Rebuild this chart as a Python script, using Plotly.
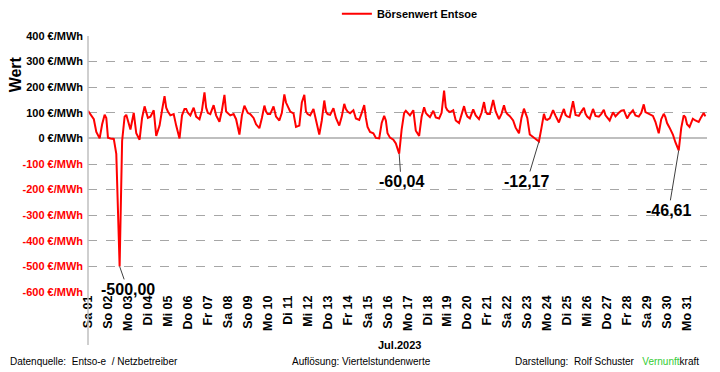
import pandas as pd
import plotly.graph_objects as go

# ---------------- data ----------------
SERIES_NAME = "Börsenwert Entsoe"
MONTH_LABEL = "Jul.2023"
Y_TITLE = "Wert"
YEAR, MONTH = 2023, 7
SAMPLE_HOURS = [0, 3, 7, 10, 14, 17, 20, 22]
DAY_LABELS = ["Sa 01", "So 02", "Mo 03", "Di 04", "Mi 05", "Do 06", "Fr 07",
              "Sa 08", "So 09", "Mo 10", "Di 11", "Mi 12", "Do 13", "Fr 14",
              "Sa 15", "So 16", "Mo 17", "Di 18", "Mi 19", "Do 20", "Fr 21",
              "Sa 22", "So 23", "Mo 24", "Di 25", "Mi 26", "Do 27", "Fr 28",
              "Sa 29", "So 30", "Mo 31"]

# €/MWh at SAMPLE_HOURS, one row per day
WEEK1 = [
    [108, 95, 75, 25, 0, 55, 92, 80],
    [3, 0, -2, -60, -500.00, -10, 85, 92],
    [70, 35, 100, 20, -5, 80, 125, 100],
    [80, 85, 110, 10, 50, 110, 165, 120],
    [105, 90, 95, 50, 0, 90, 115, 115],
    [100, 90, 120, 85, 75, 110, 180, 120],
    [100, 95, 130, 90, 65, 110, 170, 105],
]
WEEK2 = [
    [100, 90, 95, 75, 15, 90, 128, 110],
    [100, 95, 80, 55, 40, 80, 128, 105],
    [95, 95, 125, 85, 70, 100, 172, 140],
    [125, 105, 98, 45, 50, 140, 170, 105],
    [95, 90, 115, 70, 15, 70, 148, 105],
    [95, 92, 118, 80, 50, 85, 135, 115],
    [105, 98, 110, 78, 72, 100, 130, 80],
]
WEEK3 = [
    [45, 25, 20, 2, 0, 60, 88, 70],
    [20, 3, -5, -20, -60.04, 35, 100, 108],
    [100, 90, 110, 30, 10, 85, 122, 100],
    [92, 83, 108, 82, 78, 100, 187, 122],
    [110, 103, 110, 70, 60, 90, 126, 100],
    [85, 78, 113, 90, 75, 100, 142, 105],
    [95, 95, 150, 105, 75, 96, 129, 105],
]
WEEK4 = [
    [95, 87, 70, 42, 20, 80, 116, 98],
    [80, 15, 5, 0, -12.17, 40, 96, 75],
    [72, 78, 110, 88, 62, 90, 115, 92],
    [86, 83, 145, 92, 88, 105, 120, 96],
    [85, 77, 115, 88, 85, 96, 112, 90],
    [80, 70, 102, 86, 100, 108, 110, 95],
    [78, 95, 110, 90, 85, 100, 133, 103],
]
WEEK5 = [
    [100, 96, 88, 65, 20, 75, 96, 83],
    [60, 42, 15, -15, -46.61, 40, 90, 83],
    [55, 45, 77, 70, 64, 83, 99, 86],
]
LABELLED_MIN_DAYS = [2, 16, 23, 30]
Y_TICKS = [-600, -500, -400, -300, -200, -100, 0, 100, 200, 300, 400]

FOOT_SOURCE = "Datenquelle:  Entso-e  / Netzbetreiber"
FOOT_RES = "Auflösung: Viertelstundenwerte"
FOOT_AUTHOR = "Darstellung:  Rolf Schuster"

# ---------------- build ----------------
days = WEEK1 + WEEK2 + WEEK3 + WEEK4 + WEEK5
times, values = [], []
for d, row in enumerate(days, start=1):
    for h, v in zip(SAMPLE_HOURS, row):
        times.append(pd.Timestamp(YEAR, MONTH, d) + pd.Timedelta(hours=h))
        values.append(v)

FONT = "Liberation Sans Narrow, Arial Narrow, Liberation Sans, sans-serif"

fig = go.Figure()
fig.add_trace(go.Scatter(x=times, y=values, mode="lines", name=SERIES_NAME,
                         line=dict(color="#ff0000", width=2)))

tickvals = [pd.Timestamp(YEAR, MONTH, d) for d in range(1, len(DAY_LABELS) + 1)]
ytext = []
for v in Y_TICKS:
    t = f"{v} €/MWh"
    ytext.append(f"<span style='color:#ff0000'>{t}</span>" if v < 0 else t)

fig.update_layout(
    width=720, height=372,
    margin=dict(l=88, r=13, t=36, b=80, autoexpand=False),
    paper_bgcolor="white", plot_bgcolor="white",
    font=dict(family=FONT, color="black"),
    showlegend=True,
    legend=dict(orientation="h", x=0.52, xanchor="center", y=1.03, yanchor="bottom",
                font=dict(size=11, weight="bold", family=FONT)),
    xaxis=dict(range=[pd.Timestamp(YEAR, MONTH, 1), pd.Timestamp(YEAR, MONTH + 1, 1)],
               tickmode="array", tickvals=tickvals, ticktext=DAY_LABELS,
               tickangle=-90, tickfont=dict(size=12.5, weight="bold", family=FONT),
               showgrid=False, showline=False, zeroline=False, ticks="",
               automargin=False),
    yaxis=dict(range=[-600, 400], tickmode="array", tickvals=Y_TICKS, ticktext=ytext,
               tickfont=dict(size=11, weight="bold", family=FONT),
               ticklabelstandoff=4,
               showgrid=True, gridcolor="#a6a6a6", griddash="dash", gridwidth=1,
               zeroline=True, zerolinecolor="#bfbfbf", zerolinewidth=2,
               showline=False, ticks="", automargin=False),
)

# left axis line extending into label area
fig.add_shape(type="line", xref="paper", yref="paper", x0=0, x1=0, y0=-0.207, y1=1,
              line=dict(color="#bfbfbf", width=1.5))

# y-axis title near the top, as in the original
fig.add_annotation(xref="paper", yref="paper", x=-0.118, y=0.85, text=Y_TITLE,
                   textangle=-90, showarrow=False, xanchor="center", yanchor="middle",
                   font=dict(size=16, weight="bold", family=FONT))

# minimum labels
offsets = {2: (8, 23), 16: (2, 28), 23: (-12, 40), 30: (-10, 60)}
for d in LABELLED_MIN_DAYS:
    row = days[d - 1]
    i = min(range(len(row)), key=lambda k: row[k])
    v = row[i]
    t = pd.Timestamp(YEAR, MONTH, d) + pd.Timedelta(hours=SAMPLE_HOURS[i])
    ax, ay = offsets[d]
    fig.add_annotation(x=t, y=v, text=f"{v:.2f}".replace(".", ","),
                       showarrow=True, arrowhead=0, arrowwidth=1, arrowcolor="#404040",
                       ax=ax, ay=ay, font=dict(size=16, family=FONT, weight="bold"))

fig.add_annotation(xref="paper", yref="paper", x=0.504, y=-0.207, yanchor="middle",
                   text=MONTH_LABEL, showarrow=False,
                   font=dict(size=11, weight="bold", family=FONT))
foot_y = -0.273
fig.add_annotation(xref="paper", yref="paper", x=-0.13, y=foot_y, xanchor="left",
                   yanchor="middle", text=FOOT_SOURCE, showarrow=False,
                   font=dict(size=10, family=FONT))
fig.add_annotation(xref="paper", yref="paper", x=0.326, y=foot_y, xanchor="left",
                   yanchor="middle", text=FOOT_RES, showarrow=False,
                   font=dict(size=10, family=FONT))
fig.add_annotation(xref="paper", yref="paper", x=0.686, y=foot_y, xanchor="left",
                   yanchor="middle",
                   text=FOOT_AUTHOR + "   <span style='color:#33cc33'>Vernunft</span>kraft",
                   showarrow=False, font=dict(size=10, family=FONT))

fig.write_html("out.html", config={"displayModeBar": False},
               post_script="document.body.style.margin='0';document.body.style.overflow='hidden';")
